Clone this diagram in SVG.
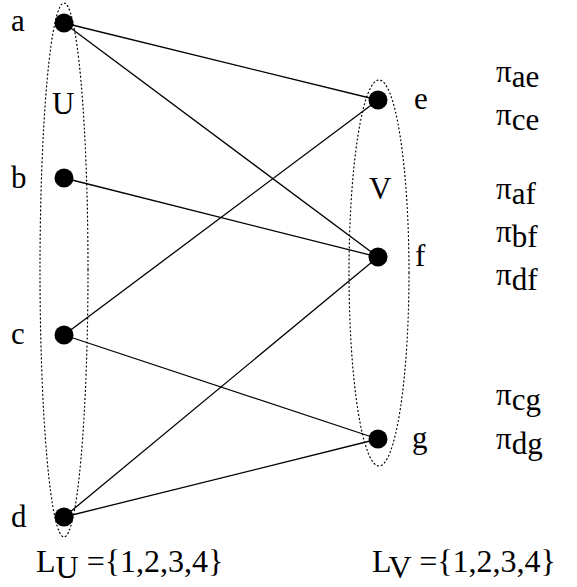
<svg xmlns="http://www.w3.org/2000/svg" width="577" height="587" viewBox="0 0 577 587">
<style>
.t{font-family:"Liberation Serif",serif;font-size:31px;fill:#000}
.b{font-size:32px}
.n{fill:#000}
.e{fill:none;stroke:#000;stroke-width:1.2;stroke-dasharray:1 3;stroke-linecap:round}
.c line{stroke:#000;stroke-width:1.3}
</style>
<rect width="577" height="587" fill="#fff"/>
<g id="sets">
<ellipse class="e" cx="64" cy="270" rx="24" ry="267"/>
<ellipse class="e" cx="379" cy="273" rx="30" ry="193"/>
<text class="t" x="52" y="114">U</text>
<text class="t" x="369" y="199">V</text>
</g>
<g class="c" id="connectors">
<line x1="64" y1="23" x2="378" y2="100"/>
<line x1="64" y1="23" x2="378" y2="257"/>
<line x1="64" y1="178" x2="378" y2="257"/>
<line x1="64" y1="335" x2="378" y2="100"/>
<line x1="64" y1="335" x2="378" y2="439"/>
<line x1="64" y1="517" x2="378" y2="257"/>
<line x1="64" y1="517" x2="378" y2="439"/>
</g>
<g id="a"><circle class="n" cx="64" cy="23" r="9.5"/><text class="t" x="11" y="31">a</text></g>
<g id="b"><circle class="n" cx="64" cy="178" r="9.5"/><text class="t" x="11" y="188">b</text></g>
<g id="c"><circle class="n" cx="64" cy="335" r="9.5"/><text class="t" x="11" y="344">c</text></g>
<g id="d"><circle class="n" cx="64" cy="517" r="9.5"/><text class="t" x="11" y="527">d</text></g>
<g id="e"><circle class="n" cx="378" cy="100" r="9.5"/><text class="t" x="414" y="109">e</text></g>
<g id="f"><circle class="n" cx="378" cy="257" r="9.5"/><text class="t" x="415" y="266">f</text></g>
<g id="g"><circle class="n" cx="378" cy="439" r="9.5"/><text class="t" x="412" y="448">g</text></g>
<g id="labels">
<text class="t" x="496" y="82">π<tspan dy="5">ae</tspan></text>
<text class="t" x="496" y="125">π<tspan dy="5">ce</tspan></text>
<text class="t" x="496" y="199">π<tspan dy="5">af</tspan></text>
<text class="t" x="496" y="242">π<tspan dy="5">bf</tspan></text>
<text class="t" x="496" y="285">π<tspan dy="5">df</tspan></text>
<text class="t" x="496" y="405">π<tspan dy="5">cg</tspan></text>
<text class="t" x="496" y="449">π<tspan dy="5">dg</tspan></text>
<text class="t b" x="36" y="572">L<tspan dy="6">U</tspan><tspan dy="-6"> ={1,2,3,4}</tspan></text>
<text class="t b" x="372" y="572">L<tspan dy="6">V</tspan><tspan dy="-6"> ={1,2,3,4}</tspan></text>
</g>
</svg>
